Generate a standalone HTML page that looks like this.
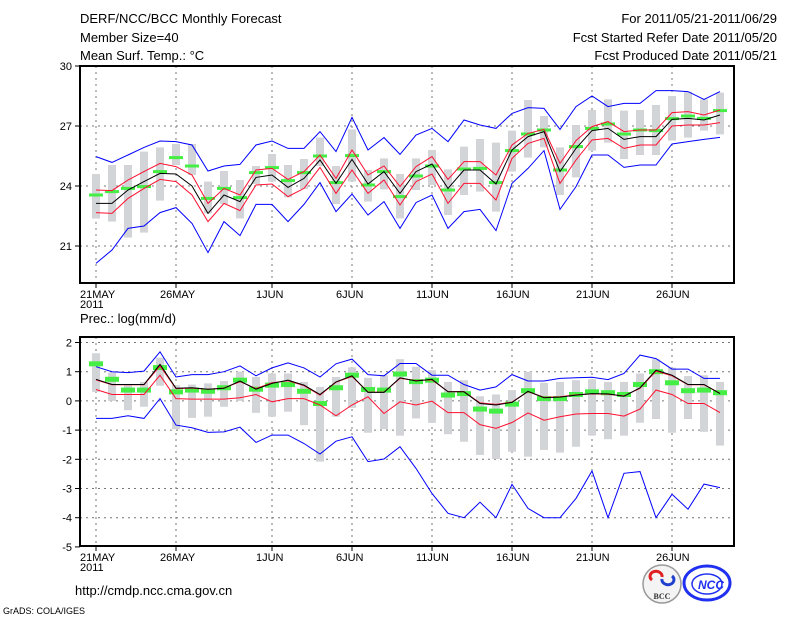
<!DOCTYPE html>
<html><head><meta charset="utf-8"><style>
html,body{margin:0;padding:0;background:#fff;}
svg{display:block;font-family:"Liberation Sans","DejaVu Sans",sans-serif;}
</style></head><body>
<svg id="chart" width="800" height="618" viewBox="0 0 800 618" xmlns="http://www.w3.org/2000/svg">
<g font-size="13" fill="#000">
<text x="80" y="23">DERF/NCC/BCC Monthly Forecast</text>
<text x="80" y="42">Member Size=40</text>
<text x="80" y="60">Mean Surf. Temp.: °C</text>
<text x="777" y="23" text-anchor="end">For 2011/05/21-2011/06/29</text>
<text x="777" y="42" text-anchor="end">Fcst Started Refer Date 2011/05/20</text>
<text x="777" y="60" text-anchor="end">Fcst Produced Date 2011/05/21</text>
<text x="80" y="323">Prec.: log(mm/d)</text>
<text x="75" y="595">http://cmdp.ncc.cma.gov.cn</text>
<text x="3" y="614" font-size="9">GrADS: COLA/IGES</text>
</g>
<g>
<g>
<circle cx="662" cy="584" r="19" fill="#f4f4f4" stroke="#999" stroke-width="1.5"/>
<path d="M652 580 a6 5 0 1 1 10 -3" fill="none" stroke="#e02020" stroke-width="3"/>
<path d="M672 576 a6 5 0 1 1 -10 3" fill="none" stroke="#2040d0" stroke-width="3"/>
<text x="662" y="599" font-size="8" font-weight="bold" text-anchor="middle" fill="#333" font-family="Liberation Serif,serif">BCC</text>
</g>
<g>
<ellipse cx="707" cy="583" rx="23" ry="17" fill="#fff" stroke="#2030f0" stroke-width="3"/>
<ellipse cx="707" cy="584" rx="15" ry="10" fill="none" stroke="#2030f0" stroke-width="1.5"/>
<text x="711" y="589" font-size="12" font-weight="bold" font-style="italic" text-anchor="middle" fill="#2030f0">NCC</text>
</g>
</g>
<g id="top"></g>
<g id="bot"></g>
</svg>
<script>
// ---------- data ----------
const days = 40;
const xTickDays = [0,5,11,16,21,26,31,36];
const xTickLabels = ["21MAY","26MAY","1JUN","6JUN","11JUN","16JUN","21JUN","26JUN"];
const tTicks = [30,27,24,21];
const tTickLabels = ["30","27","24","21"];
const pTicks = [2,1,0,-1,-2,-3,-4,-5];
const pTickLabels = ["2","1","0","-1","-2","-3","-4","-5"];

const tMean = [23.13,23.13,23.8,24.22,24.63,24.6,24.0,22.63,23.55,23.22,24.43,24.55,23.93,24.38,25.3,24.13,25.33,24.1,24.72,23.63,24.72,25.1,23.88,24.8,24.8,24.1,25.8,26.47,26.72,24.72,25.88,26.77,26.88,26.33,26.47,26.47,27.33,27.38,27.3,27.55];
const tRedHi = [23.8,23.77,24.3,24.72,25.13,24.97,24.55,23.13,23.88,23.55,24.8,24.88,24.33,24.72,25.55,24.38,25.8,24.55,25.0,23.97,24.97,25.47,24.33,25.22,25.22,24.55,26.05,26.63,26.83,25.13,26.27,26.97,27.22,26.72,26.8,26.8,27.67,27.72,27.55,27.8];
const tRedLo = [22.67,22.63,23.38,23.88,24.33,24.22,23.55,22.22,23.13,22.77,24.05,24.1,23.47,23.88,24.93,23.63,24.8,23.63,24.3,23.05,24.22,24.6,23.13,24.13,24.13,23.3,25.38,26.13,26.38,24.13,25.3,26.3,26.38,25.88,26.05,26.05,27.0,27.05,27.05,27.17];
const tBlueHi = [25.47,25.18,25.55,25.93,26.25,26.22,26.05,24.75,25.0,25.08,26.05,26.25,25.88,25.88,26.72,25.72,27.43,25.8,26.42,25.58,26.55,26.88,26.22,27.3,27.05,26.88,27.63,27.92,27.88,26.83,27.97,28.5,27.97,28.13,28.13,28.77,28.77,28.72,28.33,28.72];
const tBlueLo = [20.13,20.8,21.88,22.0,22.67,22.92,22.13,20.67,22.22,21.52,23.08,23.08,22.22,23.08,24.17,22.72,23.6,22.55,23.22,21.88,23.17,23.55,21.88,22.72,22.83,21.77,24.13,24.88,25.77,22.83,23.97,25.55,25.55,24.93,25.05,25.05,26.1,26.22,26.33,26.43];
const tObs = [23.55,23.72,23.88,23.97,24.72,25.42,25.0,23.38,23.88,23.42,24.67,24.92,24.27,24.67,25.5,24.17,25.52,24.05,24.72,23.47,24.5,25.0,23.8,24.85,24.88,24.17,25.77,26.6,26.8,24.8,25.97,26.88,27.1,26.6,26.8,26.77,27.37,27.5,27.38,27.77];
const tBarHi = [24.6,25.05,25.05,25.72,25.93,26.1,26.1,24.22,24.75,24.3,25.0,25.6,25.05,25.35,26.42,25.0,26.83,24.8,25.38,24.6,25.38,25.8,24.83,25.97,26.35,26.17,26.77,28.3,27.5,25.93,27.05,27.8,28.33,27.77,27.8,28.05,28.5,28.72,28.33,28.67];
const tBarLo = [22.37,22.22,21.42,21.67,23.27,25.05,24.55,22.63,23.1,22.38,24.1,24.22,23.43,23.85,25.0,23.1,24.22,23.22,23.83,22.38,23.8,24.05,22.55,23.55,23.72,22.72,24.72,25.42,25.93,23.55,24.43,25.77,26.17,25.35,25.55,25.55,26.27,26.42,26.77,26.58];

const pMean = [0.74,0.56,0.56,0.56,1.25,0.43,0.45,0.40,0.43,0.68,0.40,0.60,0.71,0.54,0.22,0.65,0.86,0.29,0.29,0.79,0.68,0.74,0.31,0.31,-0.09,-0.14,-0.05,0.33,0.11,0.13,0.20,0.25,0.24,0.16,0.45,1.05,0.88,0.56,0.56,0.25];
const pRedHi = [0.72,0.55,0.55,0.55,1.2,0.42,0.44,0.40,0.44,0.66,0.42,0.62,0.69,0.52,0.20,0.64,0.84,0.30,0.30,0.77,0.70,0.72,0.32,0.32,-0.07,-0.12,-0.04,0.32,0.12,0.14,0.21,0.24,0.23,0.17,0.43,1.02,0.86,0.55,0.55,0.26];
const pRedLo = [0.39,0.22,0.22,0.22,0.88,0.08,0.06,0.06,0.06,0.11,0.22,-0.03,0.08,0.08,-0.14,-0.51,-0.14,0.14,-0.43,-0.03,-0.14,-0.01,-0.40,-0.40,-0.81,-0.94,-0.74,-0.41,-0.66,-0.54,-0.45,-0.43,-0.43,-0.52,-0.28,0.37,0.22,-0.09,-0.09,-0.40];
const pBlueHi = [1.17,1.0,0.97,1.02,1.68,0.82,0.90,0.90,1.0,1.20,0.86,1.13,1.30,1.13,0.82,1.27,1.43,0.90,0.86,1.28,1.28,0.88,0.88,0.56,0.37,0.48,0.90,0.68,0.68,0.77,0.79,0.81,0.73,0.94,1.57,1.45,1.09,1.09,0.77,0.77];
const pBlueLo = [-0.60,-0.60,-0.51,-0.60,0.08,-0.83,-0.92,-1.08,-1.06,-0.90,-1.42,-1.17,-1.17,-1.46,-1.82,-1.38,-1.23,-2.08,-1.99,-1.57,-2.31,-3.17,-3.85,-4.0,-3.47,-4.0,-2.86,-3.68,-4.0,-4.0,-3.34,-2.40,-4.0,-2.48,-2.42,-4.0,-3.2,-3.71,-2.85,-2.97];
const pObs = [1.27,0.74,0.37,0.37,1.14,0.31,0.37,0.33,0.45,0.71,0.40,0.54,0.56,0.33,-0.09,0.45,0.88,0.39,0.37,0.92,0.66,0.71,0.20,0.25,-0.28,-0.35,-0.11,0.35,0.08,0.08,0.22,0.31,0.28,0.22,0.56,1.0,0.62,0.35,0.37,0.28];
const pBarHi = [1.63,0.97,0.54,0.65,1.48,0.54,0.56,0.60,0.68,1.0,0.82,0.94,0.94,0.65,0.48,0.82,1.15,0.79,0.88,1.43,1.17,1.05,0.65,0.71,0.16,0.22,0.37,1.0,0.62,0.65,0.71,0.74,0.65,0.65,0.94,1.43,1.14,0.85,0.88,0.65];
const pBarLo = [0.31,0.0,-0.32,-0.20,0.52,-0.97,-0.58,-0.54,-0.20,0.0,-0.41,-0.54,-0.37,-0.83,-2.08,-0.54,-0.24,-1.09,-0.97,-1.19,-0.60,-0.75,-1.14,-1.40,-1.85,-1.99,-1.74,-1.91,-1.68,-1.77,-1.57,-1.19,-1.31,-1.19,-0.75,-0.62,-1.09,-0.62,-1.06,-1.53];

// ---------- drawing ----------
const NS = "http://www.w3.org/2000/svg";
const X0 = 80, X1 = 734;
function xScale(d){ return 96 + d*16; }
function mk(tag, attrs, parent){
  const e = document.createElementNS(NS, tag);
  for (const k in attrs) e.setAttribute(k, attrs[k]);
  parent.appendChild(e);
  return e;
}
function panel(g, cfg){
  const yS = cfg.y;
  const gridG = mk("g", {}, g);
  
  
  cfg.ticks.forEach((v, i) => {
    const y = yS(v);
    if (y > cfg.top + 2 && y < cfg.bottom - 2) {
      const l = mk("line", {x1:X0, x2:X1, y1:y, y2:y, stroke:"#777", "stroke-width":1, "stroke-dasharray":"2,4"}, gridG);
      
      
    }
    if (y >= cfg.top - 1 && y <= cfg.bottom + 1) {
      const tk = mk("line", {x1:X0-5, x2:X0, y1:y, y2:y, stroke:"#000", "stroke-width":1}, g);
      
      
      const t = mk("text", {x:X0-8, y:y+4, "font-size":11, "text-anchor":"end"}, g);
      t.textContent = cfg.tickLabels[i];
      
      
    }
  });
  xTickDays.forEach((d, i) => {
    const x = xScale(d);
    const l = mk("line", {x1:x, x2:x, y1:cfg.top, y2:cfg.bottom, stroke:"#777", "stroke-width":1, "stroke-dasharray":"2,4"}, gridG);
    
    
    const tk = mk("line", {x1:x, x2:x, y1:cfg.bottom, y2:cfg.bottom+5, stroke:"#000", "stroke-width":1}, g);
    
    
    const t = mk("text", {x:x-16, y:cfg.bottom+15, "font-size":11}, g);
    t.textContent = xTickLabels[i];
    
    
    if (i === 0) {
      const t2 = mk("text", {x:x-16, y:cfg.bottom+25, "font-size":11}, g);
      t2.textContent = "2011";
      
      
    }
  });
  const barsG = mk("g", {}, g);
  
  
  for (let d = 0; d < days; d++) {
    const y1 = yS(cfg.barHi[d]), y2 = yS(cfg.barLo[d]);
    const r = mk("rect", {x:xScale(d)-4, y:Math.min(y1,y2), width:8, height:Math.max(1,Math.abs(y2-y1)), fill:"#d3d4d8"}, barsG);
    
    
  }
  const obsG = mk("g", {}, g);
  
  
  for (let d = 0; d < days; d++) {
    const r = mk("rect", {x:xScale(d)-7, y:yS(cfg.obs[d])-cfg.obsH/2, width:14, height:cfg.obsH, fill:"#44ee44"}, obsG);
    
    
  }
  const series = [
    [cfg.blueHi, "#0000ff", "blue-upper-line"],
    [cfg.blueLo, "#0000ff", "blue-lower-line"],
    [cfg.redHi, "#ff1030", "red-upper-line"],
    [cfg.redLo, "#ff1030", "red-lower-line"],
    [cfg.mean, "#000000", "ensemble-mean-line"]
  ];
  series.forEach(s => {
    const pts = s[0].map((v, d) => xScale(d) + "," + yS(v).toFixed(1)).join(" ");
    const p = mk("polyline", {points:pts, fill:"none", stroke:s[1], "stroke-width":1}, g);
    
    
  });
  const box = mk("rect", {x:X0, y:cfg.top, width:X1-X0, height:cfg.bottom-cfg.top, fill:"none", stroke:"#000", "stroke-width":2}, g);
  
  
}
panel(document.getElementById("top"), {
  prefix:"temp", top:66, bottom:283, y:v => 66 + (30 - v)*20,
  ticks:tTicks, tickLabels:tTickLabels, obsH:3,
  mean:tMean, redHi:tRedHi, redLo:tRedLo, blueHi:tBlueHi, blueLo:tBlueLo, obs:tObs, barHi:tBarHi, barLo:tBarLo
});
panel(document.getElementById("bot"), {
  prefix:"prec", top:337, bottom:546, y:v => 371.7 - (v - 1)*29.2,
  ticks:pTicks, tickLabels:pTickLabels, obsH:5,
  mean:pMean, redHi:pRedHi, redLo:pRedLo, blueHi:pBlueHi, blueLo:pBlueLo, obs:pObs, barHi:pBarHi, barLo:pBarLo
});
</script>
</body></html>
